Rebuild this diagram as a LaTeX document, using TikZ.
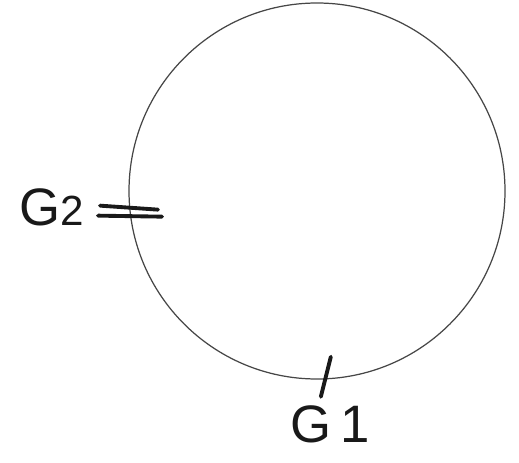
\documentclass[tikz,border=0pt]{standalone}
\usepackage{fontspec}
\setmainfont{Liberation Sans}
\definecolor{pencil}{RGB}{70, 70, 70}
\definecolor{ink}{RGB}{25, 25, 25}
\usetikzlibrary{positioning, calc}

\begin{document}
\begin{tikzpicture}[x=0.02cm, y=0.02cm,
    tick/.style={draw=ink, line width=2.2pt, line cap=round},
    glabel/.style={text=ink, inner sep=0pt, font=\fontsize{30}{32}\selectfont}]
  \useasboundingbox (0,0) rectangle (519,-462);
  % the circle
  \draw[pencil, line width=0.7pt] (317,-191) circle (188);
  % tick marks on the circle
  \coordinate (g2mark) at ($(317,-191)+(186:188)$);
  \coordinate (g1mark) at ($(317,-191)+(273:188)$);
  \draw[tick] ($(g2mark)+(-30,5)$) -- ($(g2mark)+(28,1)$);
  \draw[tick] ($(g2mark)+(-32,-5)$) -- ($(g2mark)+(32,-6)$);
  \draw[tick] ($(g1mark)+(4,22)$) -- ($(g1mark)+(-6,-18)$);
  % labels
  \node[glabel] (g2) at (52,-207) {G{\fontsize{24}{26}\selectfont 2}};
  \node[glabel] (g1) at (330,-424) {G\,1};
\end{tikzpicture}
\end{document}
